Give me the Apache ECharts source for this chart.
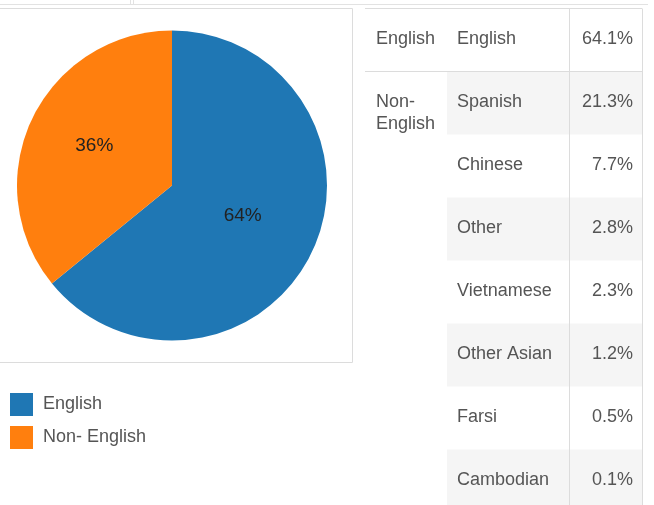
<!DOCTYPE html>
<html>
<head>
<meta charset="utf-8">
<script src="https://cdn.jsdelivr.net/npm/echarts@6/dist/echarts.min.js"></script>
<style>
html,body{margin:0;padding:0;background:#fff;}
#main{width:654px;height:505px;}
</style>
</head>
<body>
<div id="main"></div>
<script>
// ---- data ----
var pieCategories = ['English', 'Non- English'];
var pieValues = [64.1, 35.9];
var groupLabels = ['English', 'Non-\nEnglish'];
var languages = ['English', 'Spanish', 'Chinese', 'Other', 'Vietnamese', 'Other Asian', 'Farsi', 'Cambodian'];
var shares = [64.1, 21.3, 7.7, 2.8, 2.3, 1.2, 0.5, 0.1];
var shareLabels = ['64.1%', '21.3%', '7.7%', '2.8%', '2.3%', '1.2%', '0.5%', '0.1%'];

var FONT = '"Liberation Sans", Arial, sans-serif';
var TXT = '#555555';
var LINE = '#dcdcdc';
var FS = 18;

var chart = echarts.init(document.getElementById('main'), null, {renderer: 'canvas'});

// table layout
var tTop = 8.5, rowH = 63, tLeft = 365, colLang = 447, colVal = 569, tRight = 642;
var g = [];
// top strip
g.push({type: 'line', shape: {x1: 0, y1: 4.5, x2: 648, y2: 4.5}, style: {stroke: '#e2e2e2', lineWidth: 1}, silent: true});
g.push({type: 'line', shape: {x1: 130.5, y1: 0, x2: 130.5, y2: 4}, style: {stroke: '#e2e2e2', lineWidth: 1}, silent: true});
g.push({type: 'line', shape: {x1: 133.5, y1: 0, x2: 133.5, y2: 4}, style: {stroke: '#e2e2e2', lineWidth: 1}, silent: true});
// pie frame
g.push({type: 'rect', shape: {x: -1.5, y: 8.5, width: 354, height: 354}, style: {fill: 'none', stroke: LINE, lineWidth: 1}, silent: true, z: -1});

// shaded rows
for (var i = 0; i < languages.length; i++) {
  var y = tTop + rowH * i;
  if (i > 0 && i % 2 === 1) {
    g.push({type: 'rect', shape: {x: colLang, y: y, width: tRight - colLang, height: rowH}, style: {fill: '#f5f5f5'}, silent: true, z: -2});
  }
  g.push({type: 'text', x: 457, y: y + rowH / 2 - 1, style: {text: languages[i], font: FS + 'px ' + FONT, fill: TXT, verticalAlign: 'middle', align: 'left'}, silent: true});
  g.push({type: 'text', x: 633, y: y + rowH / 2 - 1, style: {text: shareLabels[i], font: FS + 'px ' + FONT, fill: TXT, verticalAlign: 'middle', align: 'right'}, silent: true});
}
// group labels
g.push({type: 'text', x: 376, y: tTop + rowH / 2 - 1, style: {text: groupLabels[0], font: FS + 'px ' + FONT, fill: TXT, verticalAlign: 'middle', align: 'left'}, silent: true});
g.push({type: 'text', x: 376, y: tTop + rowH + 20, style: {text: groupLabels[1], font: FS + 'px ' + FONT, fill: TXT, verticalAlign: 'top', align: 'left', lineHeight: 22}, silent: true});
// table lines
g.push({type: 'line', shape: {x1: tLeft, y1: tTop, x2: tRight, y2: tTop}, style: {stroke: LINE, lineWidth: 1}, silent: true});
g.push({type: 'line', shape: {x1: tLeft, y1: tTop + rowH, x2: tRight, y2: tTop + rowH}, style: {stroke: LINE, lineWidth: 1}, silent: true});
g.push({type: 'line', shape: {x1: colVal + 0.5, y1: tTop, x2: colVal + 0.5, y2: 505}, style: {stroke: LINE, lineWidth: 1}, silent: true});
g.push({type: 'line', shape: {x1: tRight + 0.5, y1: tTop, x2: tRight + 0.5, y2: 505}, style: {stroke: LINE, lineWidth: 1}, silent: true});

var labelOffsets = [[-2, -4], [-5, -5]];

chart.setOption({
  animation: false,
  color: ['#1f77b4', '#ff7f0e'],
  textStyle: {fontFamily: FONT},
  legend: {
    orient: 'vertical',
    left: 10,
    top: 393,
    padding: 0,
    icon: 'rect',
    itemWidth: 23,
    itemHeight: 23,
    itemGap: 10,
    textStyle: {fontSize: FS, color: TXT, fontFamily: FONT, padding: [0, 0, 0, 5]},
    data: pieCategories
  },
  graphic: g,
  series: [{
    type: 'pie',
    center: [172, 185.5],
    radius: 155,
    startAngle: 90,
    clockwise: true,
    avoidLabelOverlap: false,
    label: {
      show: true,
      position: 'inside',
      fontSize: 19,
      color: '#222',
      fontFamily: FONT,
      formatter: function (p) { return Math.round(p.value) + '%'; }
    },
    labelLine: {show: false},
    itemStyle: {borderWidth: 0},
    emphasis: {disabled: true},
    data: pieCategories.map(function (c, i) {
      return {name: c, value: pieValues[i], label: {offset: labelOffsets[i]}};
    })
  }]
});
</script>
</body>
</html>
